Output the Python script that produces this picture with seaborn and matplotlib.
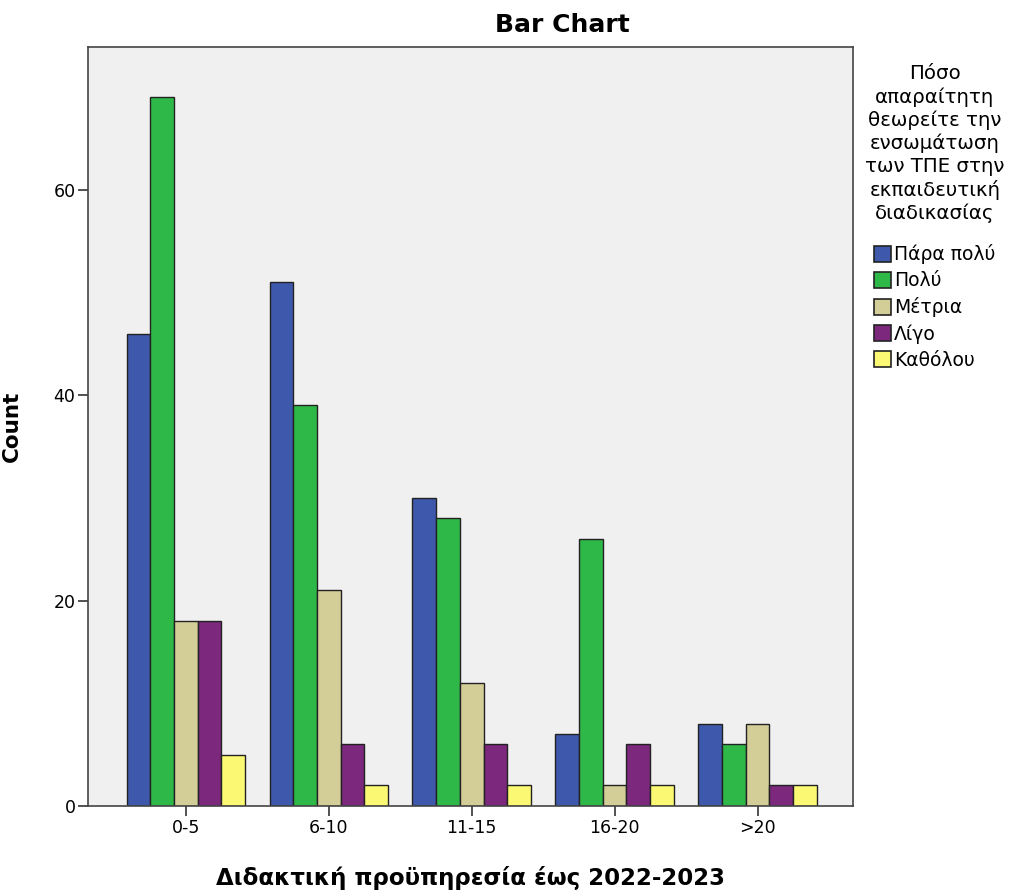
import matplotlib
matplotlib.use("Agg")
import matplotlib.pyplot as plt
import seaborn as sns
import pandas as pd
from matplotlib.patches import Patch

categories = ["0-5", "6-10", "11-15", "16-20", ">20"]
levels = ["Πάρα πολύ", "Πολύ", "Μέτρια", "Λίγο", "Καθόλου"]
para_poly = [46, 51, 30, 7, 8]
poly = [69, 39, 28, 26, 6]
metria = [18, 21, 12, 2, 8]
ligo = [18, 6, 6, 6, 2]
katholou = [5, 2, 2, 2, 2]
colors = ["#3e58ac", "#2eb848", "#d3ce97", "#7c287d", "#fbf873"]
legend_title = "Πόσο\nαπαραίτητη\nθεωρείτε την\nενσωμάτωση\nτων ΤΠΕ στην\nεκπαιδευτική\nδιαδικασίας"

series = [para_poly, poly, metria, ligo, katholou]
rows = []
for lvl, vals in zip(levels, series):
    for c, v in zip(categories, vals):
        rows.append({"cat": c, "lvl": lvl, "count": v})
df = pd.DataFrame(rows)

sns.set_style("white")
plt.rcParams["font.family"] = ["DejaVu Sans"]
plt.rcParams["text.color"] = "black"
plt.rcParams["axes.labelcolor"] = "black"
plt.rcParams["xtick.color"] = "black"
plt.rcParams["ytick.color"] = "black"

fig = plt.figure(figsize=(10.14, 8.92), dpi=100)
ax = fig.add_axes([0.0868, 0.0964, 0.754, 0.851])
ax.set_facecolor("#f0f0f0")
sns.barplot(data=df, x="cat", y="count", hue="lvl", order=categories,
            hue_order=levels, palette=colors, width=0.83, ax=ax,
            edgecolor="#222222", linewidth=1.0, saturation=1, legend=False)
ax.set_xlim(-0.685, 4.665)
ax.set_ylim(0, 73.9)
ax.set_yticks([0, 20, 40, 60])
ax.tick_params(axis="both", which="both", length=7, width=1.2, color="#333333",
               labelsize=12.5, direction="out", bottom=True, left=True, pad=2)
for s in ax.spines.values():
    s.set_color("#444444")
    s.set_linewidth(1.2)
ax.set_xlabel("Διδακτική προϋπηρεσία έως 2022-2023", fontsize=16.5, fontweight="bold")
ax.xaxis.set_label_coords(0.5, -0.079)
ax.set_ylabel("Count", fontsize=15.5, fontweight="bold")
ax.yaxis.set_label_coords(-0.087, 0.5)
fig.text(0.555, 0.972, "Bar Chart", fontsize=18, fontweight="bold", ha="center", va="center")

fig.text(0.922, 0.928, legend_title, fontsize=14.2, ha="center", va="top",
         multialignment="center", linespacing=1.25)
handles = [Patch(facecolor=c, edgecolor="#222222", linewidth=1.2) for c in colors]
leg = fig.legend(handles, levels,
                 loc="upper left", bbox_to_anchor=(0.862, 0.726), frameon=False,
                 fontsize=13.5, handlelength=0.9, handleheight=0.9,
                 handletextpad=0.15, labelspacing=0.37, borderaxespad=0, borderpad=0)
fig.savefig("out.png", dpi=100, facecolor="white")
